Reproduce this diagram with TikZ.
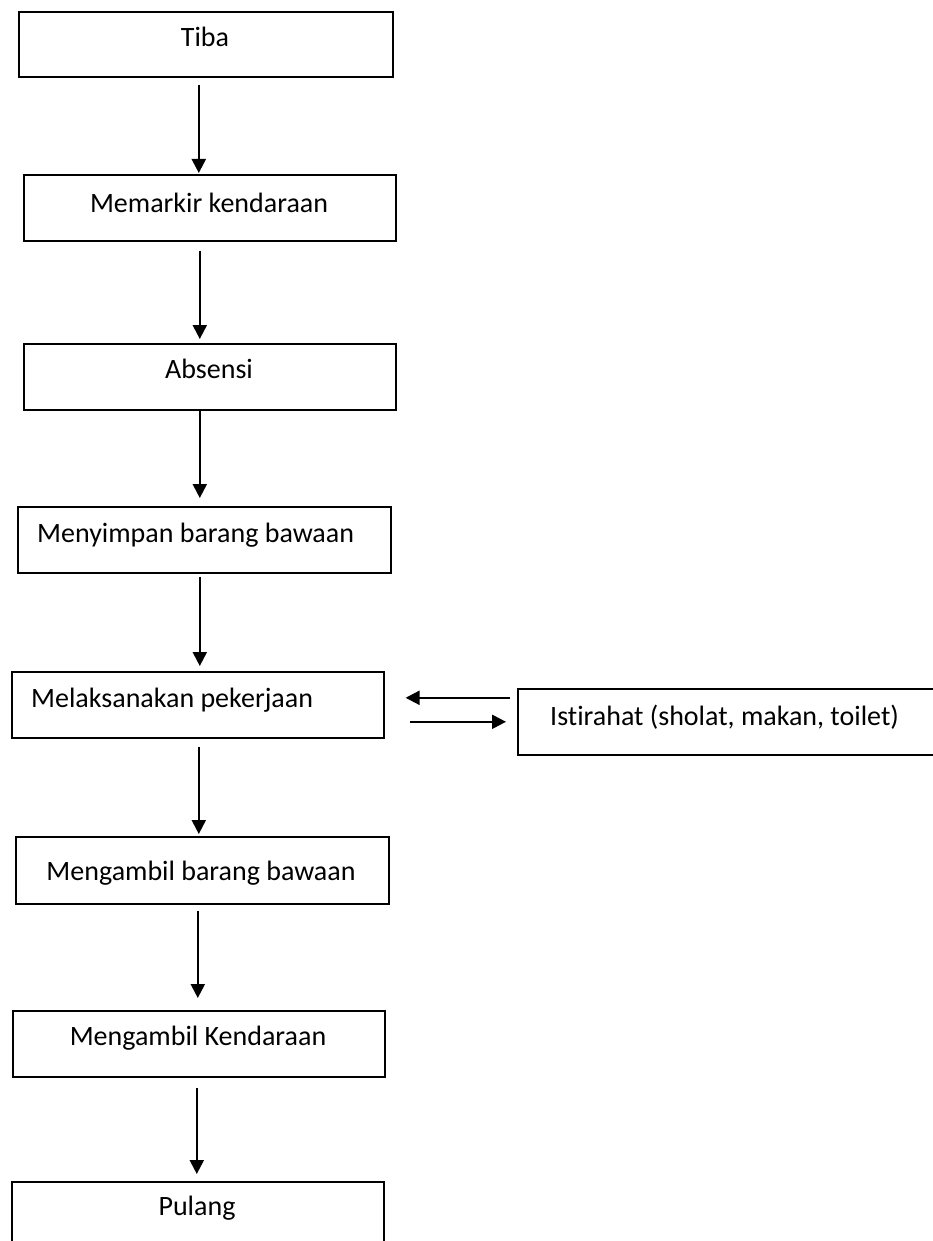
\documentclass[tikz,border=0pt]{standalone}
\usepackage{fontspec}
\setmainfont[Ligatures={NoCommon},RawFeature={-liga;-clig}]{Carlito}
\usetikzlibrary{arrows.meta}
\tikzset{
  box/.style={draw, line width=1.6pt, inner sep=0pt, anchor=north west},
  txt/.style={inner sep=0pt, font=\fontsize{28}{34}\selectfont},
  arr/.style={line width=2.2pt, -{Triangle[length=14pt,width=14pt]}}
}
\begin{document}
\begin{tikzpicture}[x=1pt,y=-1pt]
\useasboundingbox (0,0) rectangle (932,1241);
% boxes
\node[box, minimum width=374pt, minimum height=65pt] (b1) at (18,11) {};
\node[box, minimum width=372pt, minimum height=66pt] (b2) at (23,174) {};
\node[box, minimum width=372pt, minimum height=66pt] (b3) at (23,343) {};
\node[box, minimum width=373pt, minimum height=66pt] (b4) at (17,506) {};
\node[box, minimum width=372pt, minimum height=66pt] (b5) at (11,671) {};
\node[box, minimum width=423pt, minimum height=66pt] (b6) at (517,688) {};
\node[box, minimum width=373pt, minimum height=67pt] (b7) at (15,836) {};
\node[box, minimum width=372pt, minimum height=66pt] (b8) at (12,1010) {};
\node[box, minimum width=372pt, minimum height=69pt] (b9) at (11,1181) {};
% texts
\node[txt, anchor=base] (t1) at (205,47) {Tiba};
\node[txt, anchor=base] (t2) at (209,213) {Memarkir kendaraan};
\node[txt, anchor=base] (t3) at (209,378) {Absensi};
\node[txt, anchor=base west] (t4) at (37,542) {Menyimpan barang bawaan};
\node[txt, anchor=base west] (t5) at (31,707) {Melaksanakan pekerjaan};
\node[txt, anchor=base west] (t6) at (550,725) {Ist\kern0pt irahat (sholat, makan, toilet)};
\node[txt, anchor=base] (t7) at (201,880) {Mengambil barang bawaan};
\node[txt, anchor=base] (t8) at (198,1045) {Mengambil Kendaraan};
\node[txt, anchor=base] (t9) at (197,1215) {Pulang};
% vertical arrows
\draw[arr] ([xshift=-7pt,yshift=-7pt]b1.south) -- ([xshift=-11pt,yshift=1pt]b2.north);
\draw[arr] ([xshift=-10pt,yshift=-9pt]b2.south) -- ([xshift=-10pt,yshift=4pt]b3.north);
\draw[arr] ([xshift=-10pt,yshift=0pt]b3.south) -- ([xshift=-4.5pt,yshift=8pt]b4.north);
\draw[arr] ([xshift=-4.5pt,yshift=-3pt]b4.south) -- ([xshift=2pt,yshift=5pt]b5.north);
\draw[arr] ([xshift=1pt,yshift=-8pt]b5.south) -- ([xshift=-3.5pt,yshift=2pt]b7.north);
\draw[arr] ([xshift=-4.5pt,yshift=-6pt]b7.south) -- ([xshift=-1pt,yshift=12pt]b8.north);
\draw[arr] ([xshift=-2pt,yshift=-10pt]b8.south) -- ([xshift=-1pt,yshift=7pt]b9.north);
% horizontal arrows
\draw[arr] ([xshift=-7pt,yshift=24pt]b6.west) -- ([xshift=21pt,yshift=7pt]b5.east);
\draw[arr] ([xshift=25pt,yshift=-17pt]b5.east) -- ([xshift=-11pt]b6.west);
\end{tikzpicture}
\end{document}
